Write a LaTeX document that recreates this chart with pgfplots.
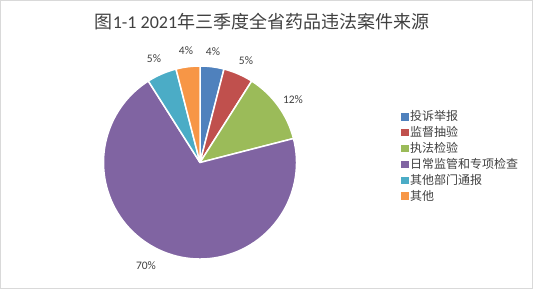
\documentclass[border=0pt]{standalone}
\usepackage{pgfplots}
\usepackage{pgfplotstable}
\pgfplotsset{compat=1.18}
\usepackage{fontspec}
\setmainfont{Carlito}
\newfontfamily\cjk{Noto Sans CJK SC}
\definecolor{c0}{HTML}{4F81BD}
\definecolor{c1}{HTML}{C0504D}
\definecolor{c2}{HTML}{9BBB59}
\definecolor{c3}{HTML}{8064A2}
\definecolor{c4}{HTML}{4BACC6}
\definecolor{c5}{HTML}{F79646}
\definecolor{txt}{HTML}{404040}
\definecolor{frame}{HTML}{D9D9D9}

% value = share in percent; labx, laby = label position (px from top-left)
\pgfplotstableread{
value labx laby
4  213 52
5  246 61
12 293 100
70 146 266
5  154 59
4  186 51
}\piedata

\begin{document}
\begin{tikzpicture}
\begin{axis}[
  width=534pt, height=290pt, scale only axis,
  xmin=0, xmax=534, ymin=0, ymax=290,
  hide axis, clip=false,
  legend style={at={(axis cs:398,183)}, anchor=north west, draw=none, fill=none,
    font=\fontsize{12pt}{14pt}\selectfont\cjk\color{txt},
    row sep=1.2pt, nodes={inner ysep=1.5pt, inner xsep=2.2pt}},
  legend cell align=left,
]
\addlegendimage{legend image code/.code={\fill[c0] (0pt,-3.2pt) rectangle (6.4pt,3.2pt);}}
\addlegendentry{投诉举报}
\addlegendimage{legend image code/.code={\fill[c1] (0pt,-3.2pt) rectangle (6.4pt,3.2pt);}}
\addlegendentry{监督抽验}
\addlegendimage{legend image code/.code={\fill[c2] (0pt,-3.2pt) rectangle (6.4pt,3.2pt);}}
\addlegendentry{执法检验}
\addlegendimage{legend image code/.code={\fill[c3] (0pt,-3.2pt) rectangle (6.4pt,3.2pt);}}
\addlegendentry{日常监管和专项检查}
\addlegendimage{legend image code/.code={\fill[c4] (0pt,-3.2pt) rectangle (6.4pt,3.2pt);}}
\addlegendentry{其他部门通报}
\addlegendimage{legend image code/.code={\fill[c5] (0pt,-3.2pt) rectangle (6.4pt,3.2pt);}}
\addlegendentry{其他}

\pgfplotsextra{
  \path (axis cs:0,0) rectangle (axis cs:534,290);
  \draw[frame, line width=1pt] (axis cs:0.5,2) rectangle (axis cs:532.5,289.5);
  \node[txt, font=\fontsize{18pt}{20pt}\selectfont] at (axis cs:262,268.5)
    {{\cjk 图}1-1 2021{\cjk 年三季度全省药品违法案件来源}};
  \xdef\cum{0}
  \foreach \i in {0,...,5}{
    \pgfplotstablegetelem{\i}{value}\of\piedata \let\v\pgfplotsretval
    \pgfplotstablegetelem{\i}{labx}\of\piedata \let\lx\pgfplotsretval
    \pgfplotstablegetelem{\i}{laby}\of\piedata \let\ly\pgfplotsretval
    \pgfmathsetmacro\a{90-3.6*\cum}
    \pgfmathsetmacro\b{90-3.6*(\cum+\v)}
    \pgfmathsetmacro\lyy{290-\ly}
    \filldraw[fill=c\i, draw=white, line width=1.5pt, line join=round]
      (axis cs:200,127.5) -- ++(\a:96.5pt) arc[start angle=\a, end angle=\b, radius=96.5pt] -- cycle;
    \node[txt, font=\fontsize{11.5pt}{13pt}\selectfont] at (axis cs:\lx,\lyy) {\v\%};
    \pgfmathsetmacro\c{\cum+\v}\xdef\cum{\c}
  }
}
\end{axis}
\end{tikzpicture}
\end{document}
